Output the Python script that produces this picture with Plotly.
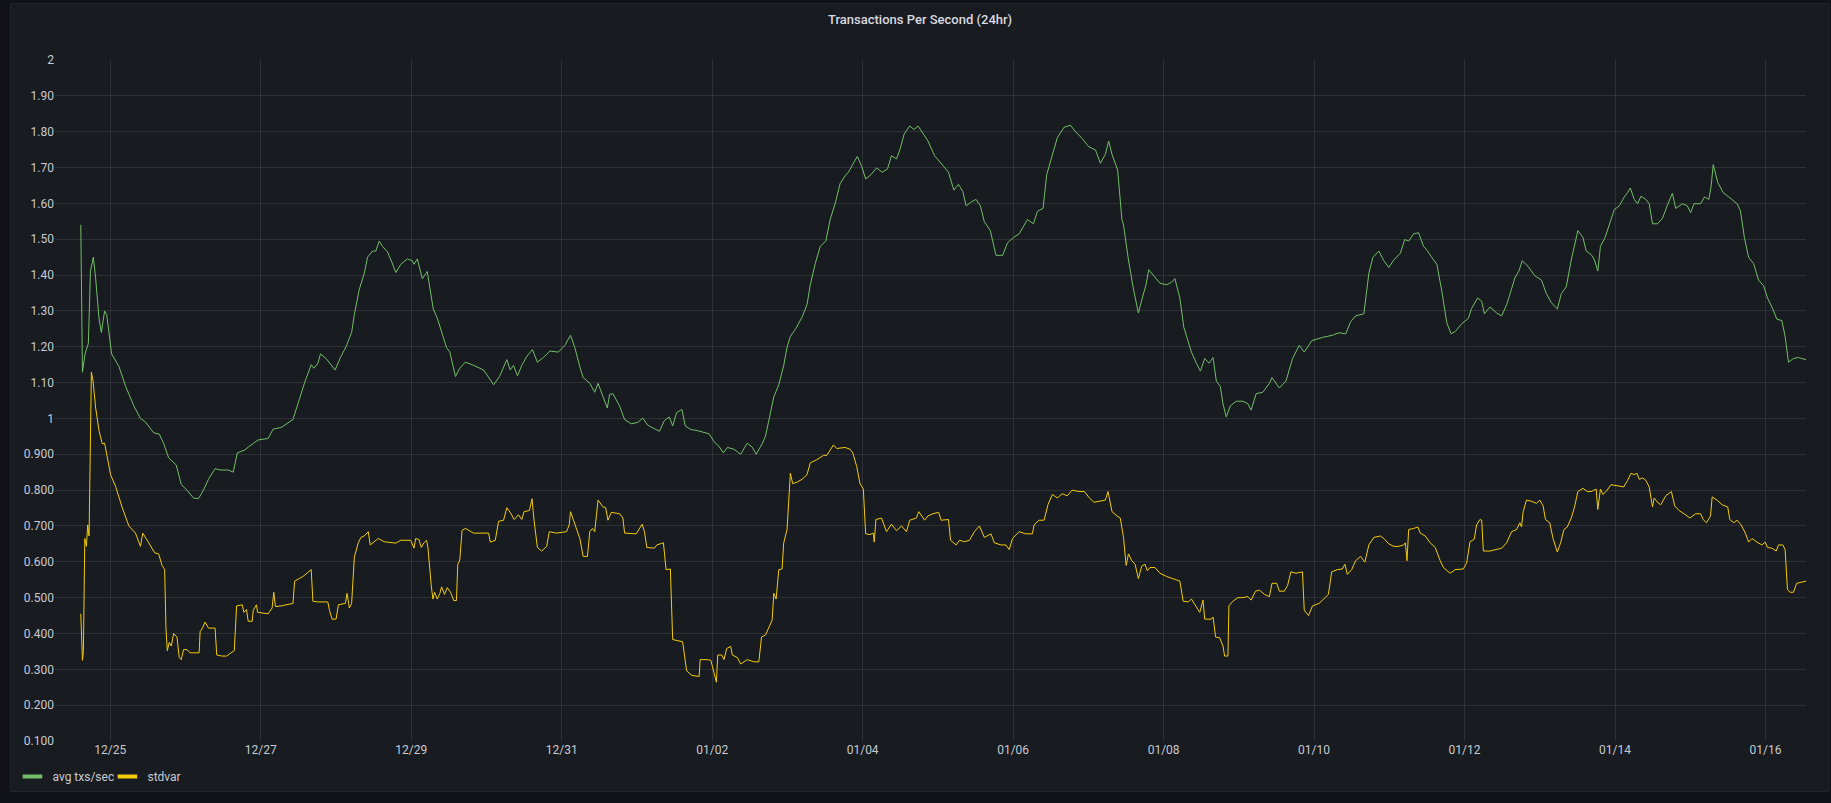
import pandas as pd
import plotly.graph_objects as go

BASE = "2020-12-25"  # day 0 of the offsets below

# avg txs/sec : (day offset from 12/25 00:00, value)
avg_days = [
    -0.392, -0.370, -0.335, -0.291, -0.264, -0.225, -0.194, -0.150, -0.119, -0.075, -0.048,
    0.018, 0.115, 0.203, 0.313, 0.401, 0.467, 0.577, 0.652, 0.710, 0.776, 0.877, 0.943,
    1.018, 1.106, 1.172, 1.238, 1.305, 1.393, 1.459, 1.569, 1.635, 1.688, 1.789, 1.833,
    1.966, 2.098, 2.164, 2.274, 2.362, 2.428, 2.517, 2.583, 2.671, 2.706, 2.759, 2.794,
    2.869, 2.926, 2.988, 3.059, 3.134, 3.208, 3.244, 3.310, 3.376, 3.420, 3.486, 3.530,
    3.574, 3.618, 3.684, 3.742, 3.795, 3.861, 3.949, 4.015, 4.037, 4.081, 4.147, 4.213,
    4.257, 4.293, 4.346, 4.412, 4.469, 4.513, 4.588, 4.645, 4.720, 4.830, 4.962, 5.095,
    5.174, 5.271, 5.315, 5.359, 5.412, 5.469, 5.536, 5.611, 5.677, 5.756, 5.844, 5.955,
    6.042, 6.117, 6.174, 6.241, 6.285, 6.373, 6.439, 6.483, 6.549, 6.606, 6.637, 6.681,
    6.769, 6.836, 6.924, 7.012, 7.078, 7.144, 7.299, 7.365, 7.430, 7.475, 7.527, 7.598,
    7.642, 7.717, 7.805, 7.893, 7.959, 8.025, 8.091, 8.149, 8.202, 8.290, 8.378, 8.466,
    8.532, 8.585, 8.664, 8.709, 8.753, 8.819, 8.885, 8.951, 8.995, 9.039, 9.105, 9.193,
    9.260, 9.304, 9.370, 9.436, 9.511, 9.568, 9.634, 9.700, 9.767, 9.811, 9.877, 9.929,
    9.987, 10.040, 10.110, 10.185, 10.260, 10.331, 10.383, 10.450, 10.494, 10.551, 10.626,
    10.683, 10.736, 10.802, 10.868, 10.956, 11.044, 11.141, 11.212, 11.274, 11.331, 11.375,
    11.450, 11.507, 11.565, 11.617, 11.697, 11.772, 11.860, 11.926, 12.005, 12.080, 12.190,
    12.270, 12.323, 12.398, 12.446, 12.508, 12.587, 12.675, 12.763, 12.829, 12.917, 13.006,
    13.094, 13.160, 13.226, 13.270, 13.314, 13.389, 13.446,
    13.467, 13.533, 13.599, 13.665, 13.709, 13.766, 13.802, 13.863, 13.952, 14.040, 14.106,
    14.150, 14.216, 14.269, 14.370, 14.436, 14.489, 14.546, 14.604, 14.657, 14.701, 14.754,
    14.789, 14.833, 14.886, 14.965, 15.053, 15.119, 15.163, 15.230, 15.318, 15.406, 15.441,
    15.538, 15.626, 15.714, 15.803, 15.869, 15.970, 16.111, 16.243, 16.331, 16.420, 16.486,
    16.552, 16.662, 16.728, 16.781, 16.860, 16.927, 16.993, 17.059, 17.147, 17.204, 17.257,
    17.323, 17.389, 17.455, 17.499, 17.565, 17.632, 17.698, 17.764, 17.821, 17.874, 17.962,
    18.050, 18.094, 18.173,
    18.228, 18.264, 18.338, 18.427, 18.493, 18.559, 18.616, 18.669, 18.722, 18.766, 18.845,
    18.933, 19.022, 19.088, 19.154, 19.233, 19.286, 19.352, 19.418, 19.462, 19.506, 19.573,
    19.617, 19.683, 19.727, 19.771, 19.806, 19.868, 19.925, 19.991, 20.057, 20.123, 20.167,
    20.203, 20.256, 20.300, 20.344, 20.410, 20.454, 20.498, 20.564, 20.630, 20.696, 20.762,
    20.807, 20.895, 20.961, 21.005, 21.049, 21.137, 21.190, 21.247, 21.278, 21.305, 21.366,
    21.437, 21.512, 21.578, 21.622, 21.666, 21.719, 21.776, 21.842, 21.908, 21.974, 22.027,
    22.098, 22.150, 22.217, 22.261, 22.305, 22.371, 22.437, 22.481, 22.539,
]
avg_vals = [
    1.54, 1.129, 1.18, 1.21, 1.41, 1.45, 1.39, 1.28, 1.24, 1.30, 1.29,
    1.18, 1.145, 1.09, 1.035, 1.00, 0.99, 0.96, 0.956, 0.93, 0.89, 0.87, 0.816,
    0.80, 0.778, 0.776, 0.80, 0.83, 0.86, 0.856, 0.856, 0.85, 0.904, 0.912, 0.92,
    0.94, 0.944, 0.97, 0.975, 0.987, 0.997, 1.056, 1.10, 1.15, 1.14, 1.154, 1.18,
    1.167, 1.15, 1.135, 1.17, 1.20, 1.24, 1.29, 1.36, 1.405, 1.45, 1.467, 1.467,
    1.495, 1.48, 1.465, 1.436, 1.407, 1.43, 1.445, 1.44, 1.43, 1.445, 1.39, 1.41,
    1.355, 1.305, 1.28, 1.236, 1.198, 1.185, 1.117, 1.14, 1.157, 1.148, 1.135, 1.094,
    1.117, 1.164, 1.135, 1.148, 1.119, 1.148, 1.173, 1.192, 1.157, 1.17, 1.188, 1.185,
    1.204, 1.232, 1.198, 1.144, 1.114, 1.098, 1.073, 1.098, 1.06, 1.029, 1.067, 1.069,
    1.035, 0.997, 0.985, 0.989, 1.001, 0.981, 0.964, 0.994, 1.004, 0.979, 1.016, 1.025,
    0.979, 0.969, 0.966, 0.96, 0.957, 0.935, 0.922, 0.904, 0.919, 0.914, 0.90, 0.931,
    0.92, 0.90, 0.929, 0.951, 0.991, 1.06, 1.094, 1.148, 1.198, 1.229, 1.248, 1.282,
    1.317, 1.373, 1.432, 1.48, 1.495, 1.555, 1.599, 1.655, 1.677, 1.687, 1.712, 1.731,
    1.703, 1.668, 1.68, 1.699, 1.687, 1.696, 1.733, 1.724, 1.749, 1.793, 1.816,
    1.806, 1.816, 1.796, 1.774, 1.733, 1.712, 1.687, 1.637, 1.653, 1.633, 1.593,
    1.605, 1.611, 1.593, 1.549, 1.524, 1.455, 1.455, 1.49, 1.505, 1.515, 1.555,
    1.543, 1.578, 1.586, 1.68, 1.724, 1.783, 1.812, 1.818, 1.80, 1.781, 1.758,
    1.749, 1.712, 1.737, 1.774, 1.737, 1.693, 1.555,
    1.54, 1.442, 1.361, 1.294, 1.33, 1.373, 1.415, 1.40, 1.377, 1.373, 1.38,
    1.39, 1.336, 1.254, 1.185, 1.154, 1.132, 1.167, 1.154, 1.17, 1.104, 1.089,
    1.041, 1.004, 1.035, 1.048, 1.048, 1.041, 1.023, 1.069, 1.073, 1.098, 1.114,
    1.085, 1.104, 1.167, 1.204, 1.185, 1.217, 1.226, 1.232, 1.239, 1.236, 1.27,
    1.286, 1.292, 1.405, 1.449, 1.467, 1.44, 1.421, 1.442, 1.461, 1.499, 1.495,
    1.515, 1.518, 1.48, 1.47, 1.449, 1.43, 1.355, 1.267, 1.236, 1.242, 1.264,
    1.279, 1.307, 1.336,
    1.327, 1.292, 1.311, 1.294, 1.286, 1.317, 1.355, 1.392, 1.411, 1.44, 1.424,
    1.398, 1.386, 1.348, 1.323, 1.305, 1.348, 1.367, 1.442, 1.48, 1.524, 1.505,
    1.467, 1.457, 1.442, 1.411, 1.48, 1.505, 1.543, 1.583, 1.593, 1.618, 1.63,
    1.643, 1.611, 1.599, 1.62, 1.611, 1.599, 1.543, 1.543, 1.558, 1.595, 1.628,
    1.586, 1.599, 1.593, 1.574, 1.599, 1.599, 1.618, 1.611, 1.649, 1.708, 1.658,
    1.63, 1.618, 1.605, 1.599, 1.58, 1.505, 1.449, 1.432, 1.386, 1.37, 1.336,
    1.305, 1.277, 1.273, 1.229, 1.157, 1.167, 1.17, 1.167, 1.164,
]

# stdvar : (day offset from 12/25 00:00, value)
std_days = [
    -0.392, -0.370, -0.357, -0.339, -0.317, -0.300, -0.282, -0.264, -0.251, -0.229, -0.194,
    -0.150, -0.106, -0.075, -0.040, 0.004, 0.071, 0.159, 0.247, 0.335, 0.401, 0.432,
    0.511, 0.590, 0.643, 0.688, 0.723, 0.740, 0.758, 0.784, 0.811, 0.842, 0.886, 0.917,
    0.943, 0.974, 1.018, 1.062, 1.128, 1.181, 1.194, 1.225, 1.260, 1.305, 1.393, 1.415,
    1.481, 1.547, 1.604, 1.648, 1.679, 1.723, 1.754, 1.776, 1.811, 1.833, 1.886, 1.900,
    1.944, 1.957, 2.098, 2.151, 2.173, 2.195, 2.274, 2.428, 2.450, 2.561, 2.671, 2.693,
    2.759, 2.891, 2.913, 2.948, 3.001, 3.032, 3.125, 3.147, 3.178, 3.208, 3.244, 3.296,
    3.332, 3.376, 3.429, 3.455, 3.508, 3.561, 3.640, 3.728, 3.795, 3.861, 3.993, 4.037,
    4.059, 4.103, 4.134, 4.169,
    4.204, 4.222, 4.244, 4.266, 4.288, 4.310, 4.346, 4.381, 4.403, 4.443, 4.478, 4.522,
    4.566, 4.601, 4.619, 4.645, 4.676, 4.720, 4.830, 4.919, 5.029, 5.051, 5.117, 5.161,
    5.227, 5.271, 5.324, 5.368, 5.425, 5.469, 5.500, 5.571, 5.606, 5.632, 5.677, 5.734,
    5.800, 5.835, 5.932, 6.064, 6.100, 6.117, 6.174, 6.241, 6.285, 6.342, 6.373, 6.408,
    6.439, 6.483, 6.549, 6.584, 6.615, 6.659, 6.769, 6.813, 6.836, 6.990, 7.069, 7.100,
    7.131, 7.233, 7.264, 7.352, 7.387, 7.444, 7.475, 7.541, 7.607, 7.660, 7.730, 7.827,
    7.840, 7.937, 7.982, 8.025, 8.056, 8.074, 8.126, 8.157, 8.193, 8.246, 8.268, 8.334,
    8.378, 8.466, 8.554, 8.620, 8.656, 8.709, 8.761, 8.797, 8.819, 8.850,
    8.885, 8.929, 8.951, 8.995, 9.039, 9.070, 9.127, 9.193, 9.260, 9.304, 9.392, 9.480,
    9.524, 9.568, 9.612, 9.656, 9.767, 9.833, 9.868, 9.921, 9.965, 10.009, 10.040, 10.097,
    10.141, 10.154, 10.176, 10.251, 10.317, 10.383, 10.450, 10.516, 10.582, 10.626, 10.714,
    10.745, 10.824, 10.868, 10.934, 11.009, 11.044, 11.141, 11.168, 11.243, 11.287, 11.353,
    11.419, 11.485, 11.552, 11.617, 11.706, 11.750, 11.838, 11.904, 11.948, 11.992, 12.080,
    12.168, 12.256, 12.279, 12.345, 12.411, 12.464, 12.521, 12.587, 12.653, 12.719, 12.785,
    12.873, 12.948, 13.006, 13.072, 13.160, 13.226, 13.261, 13.314, 13.380, 13.424,
    13.467, 13.502, 13.533, 13.577, 13.621, 13.665, 13.709, 13.753, 13.784, 13.819, 13.885,
    13.952, 14.040, 14.150, 14.216, 14.260, 14.326, 14.370, 14.414, 14.480, 14.524, 14.546,
    14.635, 14.657, 14.692, 14.745, 14.789, 14.811, 14.855, 14.868, 14.921, 14.987, 15.053,
    15.119, 15.163, 15.221, 15.274, 15.340, 15.406, 15.441, 15.503, 15.538, 15.604, 15.648,
    15.692, 15.758, 15.846, 15.869, 15.926, 15.979, 16.067, 16.133, 16.190, 16.234, 16.309,
    16.375, 16.410, 16.442, 16.499, 16.552, 16.618, 16.675, 16.728, 16.794, 16.882, 16.927,
    16.993, 17.059, 17.125, 17.191, 17.213, 17.235, 17.257, 17.323, 17.380, 17.411, 17.477,
    17.543, 17.610, 17.676, 17.720, 17.808, 17.874, 17.984, 18.028, 18.072, 18.129, 18.160,
    18.204,
    18.228, 18.250, 18.338, 18.427, 18.493, 18.559, 18.625, 18.691, 18.735, 18.757, 18.779,
    18.823, 18.889, 18.956, 19.000, 19.044, 19.075, 19.132, 19.176, 19.233, 19.277, 19.321,
    19.365, 19.418, 19.462, 19.506, 19.573, 19.630, 19.683, 19.749, 19.771, 19.806, 19.837,
    19.881, 19.947, 20.035, 20.115, 20.167, 20.212, 20.256, 20.291, 20.322, 20.366, 20.410,
    20.454, 20.498, 20.520, 20.564, 20.608, 20.674, 20.749, 20.793, 20.851, 20.917, 20.996,
    21.071, 21.137, 21.172, 21.216, 21.269, 21.291, 21.357, 21.423, 21.498, 21.525, 21.578,
    21.622, 21.675, 21.732, 21.776, 21.820, 21.886, 21.952, 21.996, 22.027, 22.085, 22.142,
    22.173, 22.230, 22.261, 22.292, 22.327, 22.371, 22.415, 22.451, 22.539,
]
std_vals = [
    0.455, 0.325, 0.352, 0.665, 0.643, 0.703, 0.672, 0.99, 1.129, 1.104, 1.029,
    0.966, 0.929, 0.931, 0.891, 0.843, 0.81, 0.751, 0.70, 0.68, 0.643, 0.68,
    0.653, 0.625, 0.622, 0.59, 0.578, 0.415, 0.352, 0.375, 0.365, 0.40, 0.39, 0.333,
    0.327, 0.355, 0.355, 0.346, 0.346, 0.346, 0.405, 0.415, 0.432, 0.415, 0.415, 0.34,
    0.337, 0.337, 0.346, 0.352, 0.477, 0.48, 0.48, 0.459, 0.467, 0.434, 0.434, 0.465,
    0.48, 0.459, 0.455, 0.471, 0.515, 0.475, 0.477, 0.484, 0.546, 0.559, 0.578, 0.49,
    0.488, 0.488, 0.465, 0.44, 0.44, 0.48, 0.484, 0.512, 0.471, 0.484, 0.613, 0.653,
    0.668, 0.672, 0.684, 0.647, 0.656, 0.665, 0.656, 0.653, 0.652, 0.66, 0.66, 0.638,
    0.665, 0.662, 0.64, 0.653,
    0.66, 0.64, 0.578, 0.534, 0.496, 0.515, 0.496, 0.512, 0.53, 0.509, 0.528, 0.515,
    0.492, 0.492, 0.593, 0.605, 0.688, 0.693, 0.68, 0.68, 0.68, 0.655, 0.66, 0.713,
    0.716, 0.751, 0.735, 0.718, 0.731, 0.718, 0.74, 0.743, 0.776, 0.716, 0.64, 0.63,
    0.643, 0.684, 0.68, 0.684, 0.703, 0.74, 0.703, 0.665, 0.615, 0.615, 0.684, 0.693,
    0.684, 0.772, 0.753, 0.751, 0.716, 0.738, 0.734, 0.722, 0.68, 0.678, 0.705, 0.684,
    0.64, 0.638, 0.647, 0.653, 0.578, 0.58, 0.383, 0.38, 0.377, 0.296, 0.283, 0.28,
    0.327, 0.327, 0.325, 0.29, 0.264, 0.34, 0.34, 0.327, 0.358, 0.364, 0.34, 0.333,
    0.315, 0.327, 0.321, 0.321, 0.39, 0.396, 0.421, 0.437, 0.512, 0.496,
    0.578, 0.58, 0.653, 0.69, 0.847, 0.818, 0.822, 0.83, 0.843, 0.876, 0.885, 0.897,
    0.897, 0.91, 0.926, 0.916, 0.919, 0.914, 0.904, 0.866, 0.818, 0.803, 0.678, 0.676,
    0.68, 0.655, 0.718, 0.722, 0.684, 0.705, 0.687, 0.70, 0.684, 0.716, 0.722,
    0.74, 0.716, 0.728, 0.734, 0.738, 0.716, 0.718, 0.66, 0.647, 0.66, 0.656,
    0.66, 0.684, 0.70, 0.668, 0.678, 0.653, 0.647, 0.647, 0.634, 0.665, 0.684,
    0.678, 0.678, 0.703, 0.716, 0.716, 0.76, 0.788, 0.778, 0.79, 0.784, 0.80,
    0.796, 0.796, 0.78, 0.766, 0.769, 0.772, 0.796, 0.74, 0.728, 0.722,
    0.668, 0.59, 0.622, 0.603, 0.593, 0.553, 0.588, 0.593, 0.575, 0.584, 0.584,
    0.568, 0.559, 0.55, 0.546, 0.49, 0.488, 0.496, 0.48, 0.459, 0.493, 0.44,
    0.44, 0.446, 0.39, 0.388, 0.365, 0.337, 0.337, 0.477, 0.49, 0.50, 0.50,
    0.503, 0.493, 0.518, 0.521, 0.509, 0.503, 0.54, 0.54, 0.518, 0.518, 0.534,
    0.572, 0.568, 0.572, 0.465, 0.45, 0.477, 0.484, 0.496, 0.509, 0.572, 0.578,
    0.58, 0.593, 0.565, 0.578, 0.603, 0.615, 0.599, 0.647, 0.668, 0.672, 0.665,
    0.65, 0.643, 0.643, 0.647, 0.653, 0.603, 0.69, 0.693, 0.697, 0.68, 0.672,
    0.653, 0.64, 0.603, 0.584, 0.568, 0.578, 0.58, 0.597, 0.656, 0.663, 0.703,
    0.718,
    0.716, 0.63, 0.63, 0.634, 0.638, 0.653, 0.684, 0.69, 0.709, 0.697, 0.74,
    0.772, 0.769, 0.763, 0.772, 0.756, 0.718, 0.709, 0.665, 0.627, 0.653, 0.69,
    0.697, 0.722, 0.753, 0.796, 0.805, 0.796, 0.796, 0.803, 0.746, 0.803, 0.788,
    0.796, 0.815, 0.812, 0.809, 0.827, 0.847, 0.843, 0.847, 0.83, 0.834, 0.827,
    0.809, 0.753, 0.778, 0.766, 0.759, 0.784, 0.796, 0.756, 0.743, 0.734, 0.722,
    0.734, 0.734, 0.718, 0.709, 0.728, 0.781, 0.772, 0.759, 0.753, 0.718, 0.709,
    0.716, 0.703, 0.68, 0.655, 0.665, 0.655, 0.647, 0.655, 0.64, 0.638, 0.63,
    0.647, 0.647, 0.634, 0.522, 0.515, 0.515, 0.54, 0.542, 0.546,
]

y_tick_vals = [0.1, 0.2, 0.3, 0.4, 0.5, 0.6, 0.7, 0.8, 0.9, 1.0,
               1.1, 1.2, 1.3, 1.4, 1.5, 1.6, 1.7, 1.8, 1.9, 2.0]
y_tick_text = ["0.100", "0.200", "0.300", "0.400", "0.500", "0.600", "0.700", "0.800",
               "0.900", "1", "1.10", "1.20", "1.30", "1.40", "1.50", "1.60", "1.70",
               "1.80", "1.90", "2"]

SERIES_NAMES = ["avg txs/sec", "stdvar"]
GREEN = "#73BF69"
YELLOW = "#F2CC0C"

base = pd.Timestamp(BASE)
avg_x = [base + pd.Timedelta(days=d) for d in avg_days]
std_x = [base + pd.Timedelta(days=d) for d in std_days]

fig = go.Figure()
fig.add_trace(go.Scatter(x=avg_x, y=avg_vals, mode="lines", name=SERIES_NAMES[0],
                         line=dict(color=GREEN, width=1), showlegend=False))
fig.add_trace(go.Scatter(x=std_x, y=std_vals, mode="lines", name=SERIES_NAMES[1],
                         line=dict(color=YELLOW, width=1), showlegend=False))
# legend swatches (Grafana-style short bars)
for nm, col in zip(SERIES_NAMES, [GREEN, YELLOW]):
    fig.add_trace(go.Scatter(x=[None], y=[None], mode="markers", name=nm,
                             marker=dict(symbol="line-ew", size=14, color=col,
                                         line=dict(color=col, width=4))))

TXT = "#c7cad2"
GRID = "rgba(204,204,220,0.12)"
fig.update_layout(
    width=1831, height=803,
    margin=dict(l=46, r=25, t=60, b=55),
    paper_bgcolor="#111217",
    plot_bgcolor="#181b1f",
    font=dict(family="Roboto, Inter, sans-serif", size=12, color=TXT),
    title=dict(text="Transactions Per Second (24hr)", x=0.5025, xref="container",
               y=1 - 19 / 803, yref="container", xanchor="center", yanchor="middle",
               font=dict(size=13, color="#d8d9e0", weight=500)),
    showlegend=True,
    legend=dict(orientation="h", x=-0.0243, xanchor="left", y=-0.052, yanchor="middle",
                bgcolor="rgba(0,0,0,0)", font=dict(size=12, color=TXT),
                itemsizing="trace", tracegroupgap=0, itemwidth=30,
                entrywidth=50, entrywidthmode="pixels"),
    xaxis=dict(
        type="date",
        range=["2020-12-24 06:22", "2021-01-16 12:55"],
        tick0="2020-12-25", dtick=2 * 86400000, tickformat="%m/%d",
        showgrid=True, gridcolor=GRID, gridwidth=1,
        zeroline=False, showline=False, ticks="",
        tickfont=dict(size=12, color=TXT),
    ),
    yaxis=dict(
        range=[0.1, 2.0],
        tickvals=y_tick_vals, ticktext=y_tick_text,
        showgrid=True, gridcolor=GRID, gridwidth=1,
        zeroline=False, showline=False, ticks="",
        tickfont=dict(size=12, color=TXT),
    ),
    shapes=[dict(type="rect", xref="paper", yref="paper",
                 x0=-0.0254, x1=1.0131, y0=-0.0741, y1=1.0828,
                 fillcolor="#181b1f", line=dict(color="#24262b", width=1),
                 layer="below")],
)

fig.write_html(
    "out.html",
    config={"displayModeBar": False},
    post_script="document.body.style.margin='0';document.body.style.overflow='hidden';",
)
